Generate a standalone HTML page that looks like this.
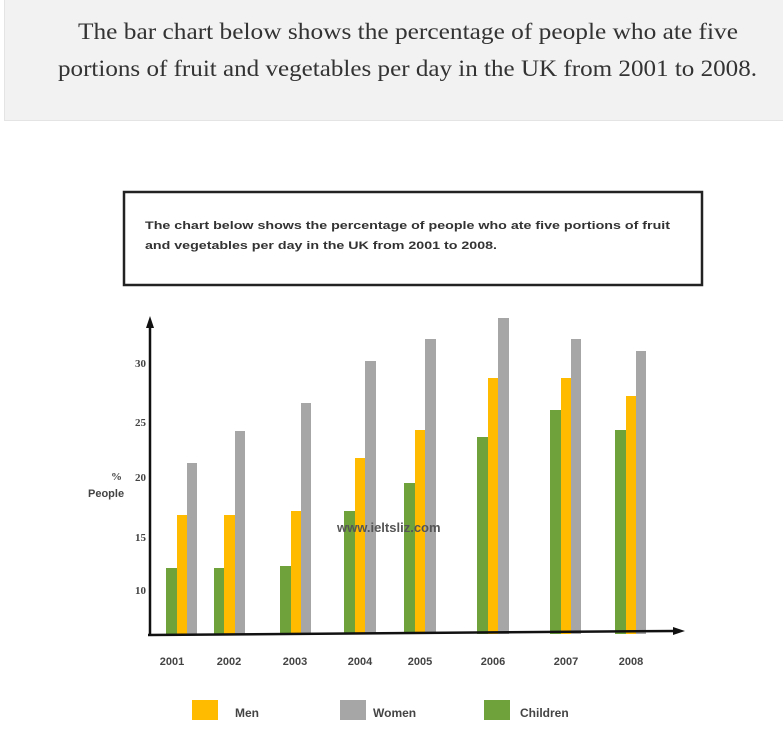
<!DOCTYPE html>
<html><head><style>
body{margin:0;width:783px;height:731px;background:#fff;overflow:hidden;position:relative;font-family:"Liberation Sans",sans-serif}
.hdr{position:absolute;left:4px;top:0;width:779px;height:120px;background:#f2f2f2;border-bottom:1px solid #e4e4e4;border-left:1px solid #e4e4e4}
</style></head><body>
<div class="hdr"></div>
<svg width="783" height="731" style="position:absolute;left:0;top:0">
<g font-family="Liberation Serif, serif" font-size="23" fill="#333">
<text x="78" y="39" textLength="660" lengthAdjust="spacingAndGlyphs">The bar chart below shows the percentage of people who ate five</text>
<text x="58" y="76" textLength="699" lengthAdjust="spacingAndGlyphs">portions of fruit and vegetables per day in the UK from 2001 to 2008.</text>
</g>
<rect x="124" y="192" width="578" height="93" fill="none" stroke="#222" stroke-width="2.5"/>
<g font-family="Liberation Sans, sans-serif" font-size="11" fill="#333" font-weight="bold">
<text x="145" y="229" textLength="525" lengthAdjust="spacingAndGlyphs">The chart below shows the percentage of people who ate five portions of fruit</text>
<text x="145" y="249" textLength="352" lengthAdjust="spacingAndGlyphs">and vegetables per day in the UK from 2001 to 2008.</text>
</g>
<g fill="#6fa23a">
<rect x="166" y="568" width="11" height="66"/><rect x="214" y="568" width="10" height="66"/><rect x="280" y="566" width="11" height="68"/><rect x="344" y="511" width="11" height="123"/><rect x="404" y="483" width="11" height="151"/><rect x="477" y="437" width="11" height="197"/><rect x="550" y="410" width="11" height="224"/><rect x="615" y="430" width="11" height="204"/>
</g>
<g fill="#ffbb00">
<rect x="177" y="515" width="10" height="119"/><rect x="224" y="515" width="11" height="119"/><rect x="291" y="511" width="10" height="123"/><rect x="355" y="458" width="10" height="176"/><rect x="415" y="430" width="10" height="204"/><rect x="488" y="378" width="10" height="256"/><rect x="561" y="378" width="10" height="256"/><rect x="626" y="396" width="10" height="238"/>
</g>
<g fill="#a6a6a6">
<rect x="187" y="463" width="10" height="171"/><rect x="235" y="431" width="10" height="203"/><rect x="301" y="403" width="10" height="231"/><rect x="365" y="361" width="11" height="273"/><rect x="425" y="339" width="11" height="295"/><rect x="498" y="318" width="11" height="316"/><rect x="571" y="339" width="10" height="295"/><rect x="636" y="351" width="10" height="283"/>
</g>
<line x1="150" y1="322" x2="150" y2="635" stroke="#111" stroke-width="2.5"/>
<polygon points="150,316 146,328 154,328" fill="#111"/>
<line x1="148" y1="635" x2="676" y2="631" stroke="#111" stroke-width="2.5"/>
<polygon points="685,631 673,627 673,635" fill="#111"/>
<text x="337" y="532" font-size="13" font-weight="bold" fill="#555" font-family="Liberation Sans, sans-serif">www.ieltsliz.com</text>
<g font-family="Liberation Serif, serif" font-size="11" font-weight="bold" fill="#444" text-anchor="end">
<text x="146" y="367">30</text><text x="146" y="426">25</text><text x="146" y="481">20</text><text x="146" y="541">15</text><text x="146" y="594">10</text>
<text x="122" y="480">%</text></g>
<text x="88" y="497" font-family="Liberation Sans, sans-serif" font-size="11" font-weight="bold" fill="#444">People</text>
<g font-family="Liberation Sans, sans-serif" font-size="11" font-weight="bold" fill="#444" text-anchor="middle">
<text x="172" y="665">2001</text><text x="229" y="665">2002</text><text x="295" y="665">2003</text><text x="360" y="665">2004</text><text x="420" y="665">2005</text><text x="493" y="665">2006</text><text x="566" y="665">2007</text><text x="631" y="665">2008</text>
</g>
<rect x="192" y="700" width="26" height="20" fill="#ffbb00"/>
<rect x="340" y="700" width="26" height="20" fill="#a6a6a6"/>
<rect x="484" y="700" width="26" height="20" fill="#6fa23a"/>
<g font-family="Liberation Sans, sans-serif" font-size="12" font-weight="bold" fill="#444">
<text x="235" y="717">Men</text><text x="373" y="717">Women</text><text x="520" y="717">Children</text>
</g>
</svg>
</body></html>
